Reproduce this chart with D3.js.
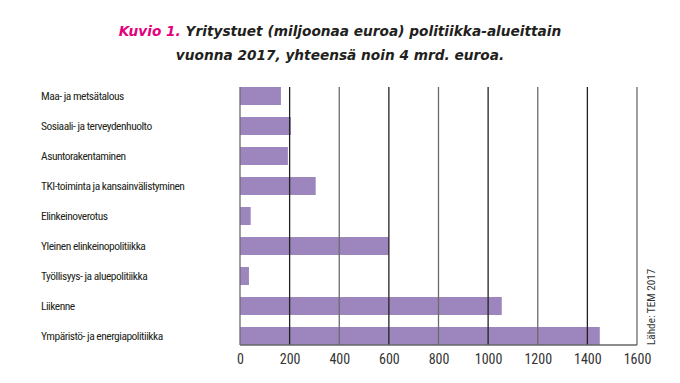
<!DOCTYPE html>
<html><head><meta charset="utf-8">
<script src="https://cdn.jsdelivr.net/npm/d3@7"></script>
<style>body{margin:0;background:#fff}</style>
</head><body>
<svg id="c" width="680" height="383"></svg>
<script>
const categories = ["Maa- ja metsätalous","Sosiaali- ja terveydenhuolto","Asuntorakentaminen","TKI-toiminta ja kansainvälistyminen","Elinkeinoverotus","Yleinen elinkeinopolitiikka","Työllisyys- ja aluepolitiikka","Liikenne","Ympäristö- ja energiapolitiikka"];
const values = [165, 205, 193, 305, 43, 600, 36, 1055, 1450];
const ticks = [0,200,400,600,800,1000,1200,1400,1600];
const titleHighlight = "Kuvio 1.";
const titleLine1 = " Yritystuet (miljoonaa euroa) politiikka-alueittain";
const titleLine2 = "vuonna 2017, yhteensä noin 4 mrd. euroa.";
const sourceText = "Lähde: TEM 2017";

const svg = d3.select("#c");
const labelFont = "'Liberation Sans Narrow','Roboto Condensed','Arial Narrow',sans-serif";
const x = d3.scaleLinear().domain([0,1600]).range([240,637]);
const y = d3.scaleBand().domain(categories).range([81,351]).paddingInner(0.4).paddingOuter(0.2);

// title
const t1 = svg.append("text").attr("x",340).attr("y",36).attr("text-anchor","middle")
  .attr("font-family","'DejaVu Sans',sans-serif").attr("font-size",13.7).attr("font-weight","bold").attr("font-style","italic").attr("fill","#231f20");
t1.append("tspan").attr("fill","#e5007d").text(titleHighlight);
t1.append("tspan").text(titleLine1);
svg.append("text").attr("x",340).attr("y",60).attr("text-anchor","middle")
  .attr("font-family","'DejaVu Sans',sans-serif").attr("font-size",13.7).attr("font-weight","bold").attr("font-style","italic").attr("fill","#231f20")
  .text(titleLine2);

// bars
svg.append("g").selectAll("rect").data(categories).join("rect")
  .attr("x",x(0)).attr("y",d=>y(d)).attr("height",y.bandwidth())
  .attr("width",(d,i)=>x(values[i])-x(0)).attr("fill","#9c86bd");

// gridlines (drawn over bars)
const gTop = 87, gBot = 345;
svg.append("g").selectAll("line").data(ticks).join("line")
  .attr("x1",d=>x(d)).attr("x2",d=>x(d)).attr("y1",gTop).attr("y2",gBot)
  .attr("stroke",(d,i)=> (i%2===0)?"#6b6b6b":"#222").attr("stroke-width",1.3);
// baseline
svg.append("line").attr("x1",x(0)).attr("x2",x(1600)).attr("y1",gBot).attr("y2",gBot)
  .attr("stroke","#666").attr("stroke-width",1.5);

// x axis labels
const ax = svg.append("g").attr("transform",`translate(0,${gBot})`)
  .call(d3.axisBottom(x).tickValues(ticks).tickSize(0).tickPadding(9).tickFormat(d3.format("d")));
ax.select(".domain").remove();
ax.selectAll("text").attr("font-family",labelFont).attr("font-size",14).attr("fill","#333");

// category labels
svg.append("g").selectAll("text").data(categories).join("text")
  .attr("x",41).attr("y",d=>y(d)+y.bandwidth()/2).attr("dy","0.35em")
  .attr("font-family",labelFont).attr("font-size",11.5).attr("fill","#231f20")
  .attr("letter-spacing",-0.5).text(d=>d);

// source
svg.append("text").attr("transform","translate(655,345) rotate(-90)")
  .attr("font-family",labelFont).attr("font-size",11.2).attr("fill","#333").text(sourceText);
</script>
</body></html>
